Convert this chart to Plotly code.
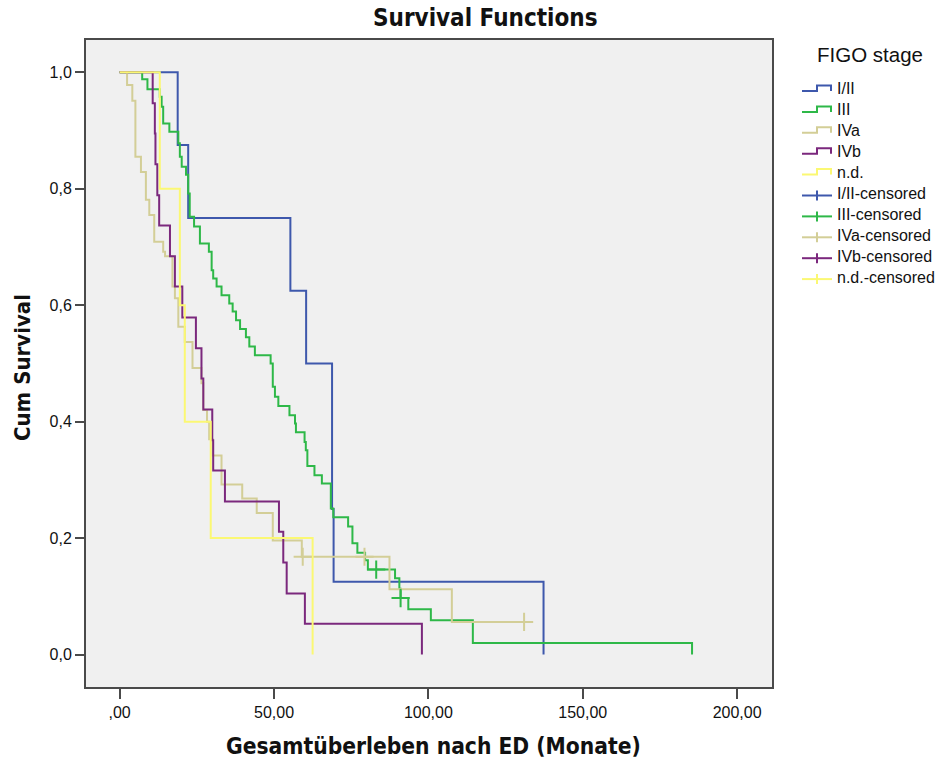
import plotly.graph_objects as go

# Kaplan-Meier estimates per FIGO stage: event times (months) and survival after each step
time_i_ii = [18.8, 22.2, 55.3, 60.4, 68.8, 69.3, 137.3]
surv_i_ii = [0.875, 0.750, 0.625, 0.500, 0.250, 0.125, 0.000]
cens_time_i_ii = []
cens_surv_i_ii = []

time_iii = [7.3, 9.0, 13.0, 13.6, 14.1, 16.1, 19.0, 19.5, 20.1, 21.5, 22.2, 22.7,
            24.1, 26.0, 28.9, 29.8, 30.3, 31.4, 33.0, 35.5, 36.6, 37.7, 39.0,
            40.9, 42.0, 43.8, 48.9, 49.6, 50.3, 51.4, 55.0, 56.8, 57.1, 59.9,
            60.3, 60.8, 63.1, 65.5, 68.4, 69.2, 74.0, 75.4, 77.0, 79.5, 80.4,
            89.2, 90.6, 91.0, 93.5, 100.8, 114.4, 185.4]
surv_iii = [0.988, 0.971, 0.958, 0.941, 0.912, 0.898, 0.878, 0.855, 0.838, 0.824,
            0.792, 0.752, 0.735, 0.706, 0.692, 0.660, 0.646, 0.632, 0.617, 0.603,
            0.589, 0.574, 0.559, 0.545, 0.529, 0.514, 0.500, 0.460, 0.443, 0.427,
            0.411, 0.397, 0.382, 0.365, 0.351, 0.324, 0.308, 0.294, 0.251, 0.236,
            0.220, 0.191, 0.175, 0.162, 0.146, 0.131, 0.113, 0.097, 0.078, 0.059,
            0.020, 0.000]
cens_time_iii = [83.1, 91.0]
cens_surv_iii = [0.146, 0.097]

time_iva = [2.4, 4.1, 5.1, 6.9, 8.5, 9.6, 11.2, 14.1, 14.7, 17.1, 17.9, 19.0,
            21.1, 23.6, 26.5, 27.1, 28.3, 29.0, 30.1, 33.0, 39.7, 44.4, 49.6,
            59.0, 87.4, 107.6, 131.0]
surv_iva = [0.978, 0.951, 0.855, 0.829, 0.781, 0.755, 0.709, 0.692, 0.684,
            0.632, 0.612, 0.563, 0.537, 0.492, 0.466, 0.420, 0.400, 0.370,
            0.342, 0.292, 0.268, 0.243, 0.196, 0.168, 0.112, 0.056, 0.056]
cens_time_iva = [59.3, 79.3, 131.0]
cens_surv_iva = [0.168, 0.168, 0.056]

time_ivb = [10.7, 11.4, 11.6, 12.2, 12.8, 16.3, 17.9, 20.3, 24.7, 26.5, 27.1,
            30.0, 30.3, 34.1, 51.6, 53.0, 54.1, 60.0, 97.9]
surv_ivb = [0.947, 0.895, 0.842, 0.789, 0.737, 0.684, 0.632, 0.579, 0.526,
            0.474, 0.421, 0.368, 0.316, 0.263, 0.211, 0.158, 0.105, 0.053, 0.000]
cens_time_ivb = []
cens_surv_ivb = []

time_nd = [13.0, 19.5, 21.1, 29.5, 62.5]
surv_nd = [0.8, 0.6, 0.4, 0.2, 0.0]
cens_time_nd = []
cens_surv_nd = []

stage_names = ["I/II", "III", "IVa", "IVb", "n.d."]
stage_colors = ["#3E58AC", "#2EB848", "#D3CE97", "#7B287D", "#FBF873"]
legend_title = "FIGO stage"

x_tick_vals = [0, 50, 100, 150, 200]
x_tick_text = [",00", "50,00", "100,00", "150,00", "200,00"]
y_tick_vals = [0.0, 0.2, 0.4, 0.6, 0.8, 1.0]
y_tick_text = ["0,0", "0,2", "0,4", "0,6", "0,8", "1,0"]

curves = [
    (time_i_ii, surv_i_ii, cens_time_i_ii, cens_surv_i_ii),
    (time_iii, surv_iii, cens_time_iii, cens_surv_iii),
    (time_iva, surv_iva, cens_time_iva, cens_surv_iva),
    (time_ivb, surv_ivb, cens_time_ivb, cens_surv_ivb),
    (time_nd, surv_nd, cens_time_nd, cens_surv_nd),
]

TEXT_FONT = "Liberation Sans, Arial, sans-serif"
BOLD_FONT = "Liberation Sans Narrow, Arial Narrow, DejaVu Sans Condensed, sans-serif"
FRAME = "#4a4a4a"
INK = "#111111"

W, H = 946, 760
M_L, M_R, M_T, M_B = 86, 174, 40, 73
PLOT_W = W - M_L - M_R
PLOT_H = H - M_T - M_B


def px_x(p):
    """page pixel column -> paper x"""
    return (p - M_L) / PLOT_W


def px_y(p):
    """page pixel row -> paper y"""
    return (H - M_B - p) / PLOT_H


fig = go.Figure()

# survival step curves
for name, color, (t, s, _, _) in zip(stage_names, stage_colors, curves):
    fig.add_trace(go.Scatter(
        x=[0.0] + t, y=[1.0] + s, mode="lines", name=name,
        line=dict(color=color, width=2, shape="hv"),
        hoverinfo="skip", showlegend=False,
    ))

# censored observations as "+" marks
for name, color, (_, _, ct, cs) in zip(stage_names, stage_colors, curves):
    if not ct:
        continue
    fig.add_trace(go.Scatter(
        x=ct, y=cs, mode="markers", name=name + "-censored",
        marker=dict(symbol="cross-thin", size=13, color=color,
                    line=dict(color=color, width=2)),
        hoverinfo="skip", showlegend=False,
    ))

# legend block to the right of the plot: step icons for curves, crosses for censoring
shapes = []
annotations = []
legend_rows = [(n, c, False) for n, c in zip(stage_names, stage_colors)] + \
              [(n + "-censored", c, True) for n, c in zip(stage_names, stage_colors)]
x0, xm, x1 = 802, 817, 831
for i, (label, color, censored) in enumerate(legend_rows):
    yc = 89 + i * 20.9
    if censored:
        shapes.append(dict(type="line", xref="paper", yref="paper",
                           x0=px_x(x0), x1=px_x(x1 + 1), y0=px_y(yc + 2), y1=px_y(yc + 2),
                           line=dict(color=color, width=2)))
        shapes.append(dict(type="line", xref="paper", yref="paper",
                           x0=px_x(xm), x1=px_x(xm), y0=px_y(yc - 3), y1=px_y(yc + 7),
                           line=dict(color=color, width=2)))
    else:
        path = "M {} {} L {} {} L {} {} L {} {} L {} {}".format(
            px_x(x0), px_y(yc + 2), px_x(xm), px_y(yc + 2), px_x(xm), px_y(yc - 3.5),
            px_x(x1), px_y(yc - 3.5), px_x(x1), px_y(yc + 2))
        shapes.append(dict(type="path", xref="paper", yref="paper", path=path,
                           line=dict(color=color, width=2)))
    annotations.append(dict(text=label, xref="paper", yref="paper",
                            x=px_x(835), y=px_y(yc), xanchor="left", yanchor="middle",
                            showarrow=False, font=dict(family=TEXT_FONT, size=16, color=INK)))

annotations += [
    dict(text=legend_title, xref="paper", yref="paper",
         x=px_x(870), y=px_y(55), xanchor="center", yanchor="middle",
         showarrow=False, font=dict(family=TEXT_FONT, size=20.5, color=INK)),
    dict(text="<b>Survival Functions</b>", xref="paper", yref="paper",
         x=px_x(485), y=px_y(18), xanchor="center", yanchor="middle",
         showarrow=False, font=dict(family=BOLD_FONT, size=24, color=INK)),
    dict(text="<b>Gesamtüberleben nach ED (Monate)</b>", xref="paper", yref="paper",
         x=px_x(433), y=px_y(746), xanchor="center", yanchor="middle",
         showarrow=False, font=dict(family=BOLD_FONT, size=22.6, color=INK)),
    dict(text="<b>Cum Survival</b>", xref="paper", yref="paper",
         x=px_x(22), y=px_y(368), xanchor="center", yanchor="middle", textangle=-90,
         showarrow=False, font=dict(family=BOLD_FONT, size=22, color=INK)),
]

fig.update_layout(
    width=W, height=H,
    margin=dict(l=M_L, r=M_R, t=M_T, b=M_B),
    paper_bgcolor="white",
    plot_bgcolor="#F0F0F0",
    showlegend=False,
    xaxis=dict(
        range=[-10.9, 211.3], tickvals=x_tick_vals, ticktext=x_tick_text,
        showgrid=False, zeroline=False,
        showline=True, mirror=True, linecolor=FRAME, linewidth=2,
        ticks="outside", ticklen=10, tickwidth=2, tickcolor=FRAME,
        tickfont=dict(family=TEXT_FONT, size=16, color=INK),
    ),
    yaxis=dict(
        range=[-0.0557, 1.0555], tickvals=y_tick_vals, ticktext=y_tick_text,
        showgrid=False, zeroline=False,
        showline=True, mirror=True, linecolor=FRAME, linewidth=2,
        ticks="outside", ticklen=9, tickwidth=2, tickcolor=FRAME,
        tickfont=dict(family=TEXT_FONT, size=16, color=INK),
    ),
    shapes=shapes,
    annotations=annotations,
)

fig.write_html("out.html")
